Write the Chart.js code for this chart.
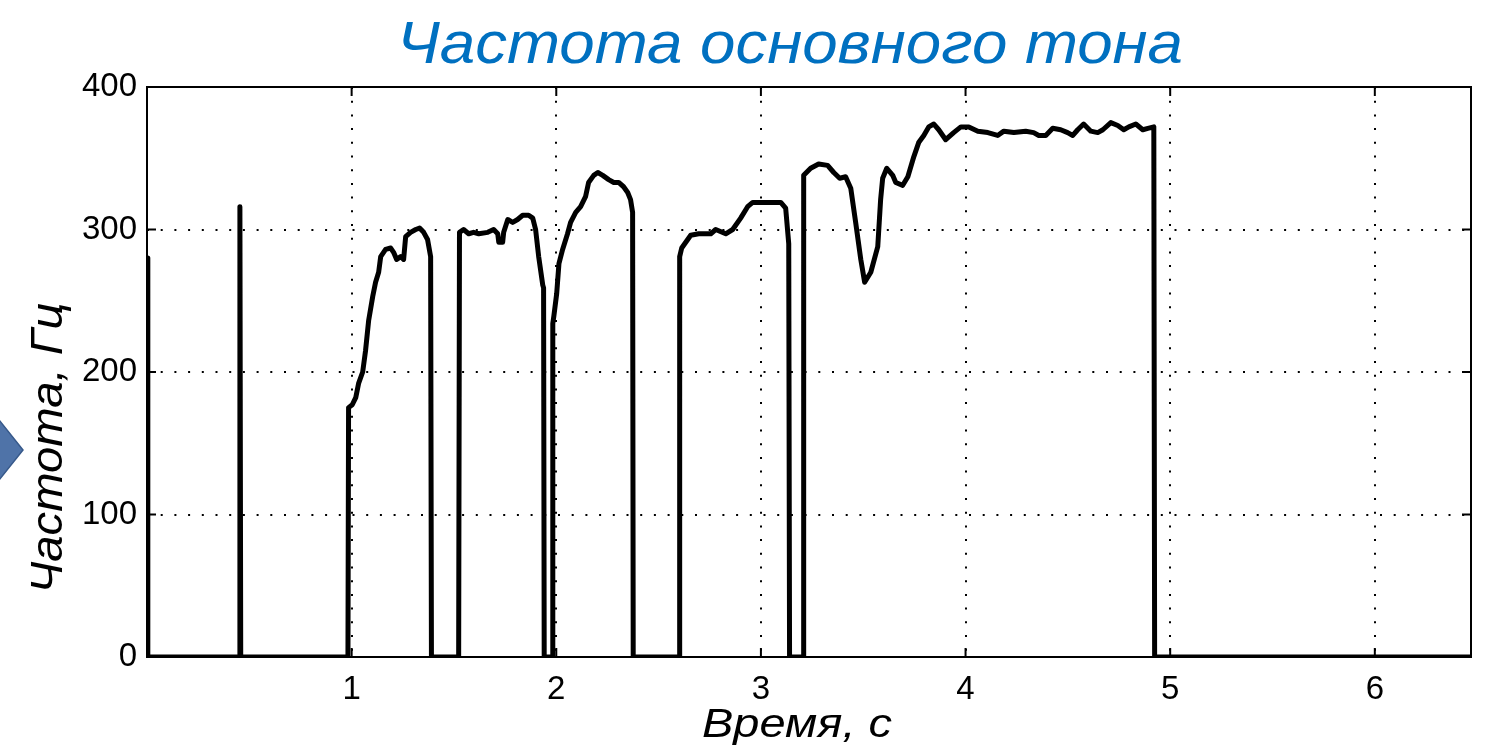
<!DOCTYPE html>
<html lang="ru">
<head>
<meta charset="utf-8">
<title>Частота основного тона</title>
<script src="https://cdn.jsdelivr.net/npm/chart.js@4.4.0/dist/chart.umd.min.js"></script>
<style>
  html, body { margin: 0; padding: 0; background: #fff; }
  #wrap { width: 1487px; height: 747px; }
</style>
</head>
<body>
<div id="wrap"><canvas id="f0-chart"></canvas></div>
<script>
// Время (с) и частота основного тона (Гц)
const timeS = [
  0, 0.004, 0.451, 0.454, 0.458, 0.982,
  0.985, 1.003, 1.020, 1.034, 1.054, 1.068, 1.083, 1.103, 1.117, 1.132, 1.142, 1.166,
  1.191, 1.205, 1.220, 1.240, 1.254, 1.264, 1.288, 1.313, 1.332, 1.352, 1.371, 1.386, 1.390,
  1.523, 1.527, 1.547, 1.572, 1.596, 1.621, 1.665, 1.694, 1.714, 1.719, 1.738, 1.743, 1.763,
  1.787, 1.811, 1.836, 1.865, 1.885, 1.899, 1.914, 1.934, 1.938, 1.941,
  1.980, 1.983, 1.988, 2.002, 2.013, 2.031, 2.055, 2.070, 2.095, 2.119, 2.143, 2.158, 2.183,
  2.203, 2.227, 2.256, 2.281, 2.305, 2.329, 2.349, 2.363, 2.373, 2.376,
  2.600, 2.603, 2.613, 2.657, 2.696, 2.755, 2.779, 2.828, 2.862, 2.901, 2.935, 2.960, 2.999,
  3.073, 3.097, 3.121, 3.136, 3.140,
  3.206, 3.209, 3.243, 3.282, 3.326, 3.356, 3.385, 3.414, 3.439, 3.463, 3.488, 3.507, 3.537,
  3.571, 3.585, 3.595, 3.615, 3.644, 3.659, 3.693, 3.718, 3.747, 3.771, 3.796, 3.820, 3.845,
  3.869, 3.903, 3.942, 3.977, 4.016, 4.060, 4.109, 4.157, 4.187, 4.236, 4.294, 4.333, 4.358,
  4.392, 4.426, 4.465, 4.499, 4.524, 4.548, 4.577, 4.612, 4.646, 4.671, 4.710, 4.744, 4.773,
  4.798, 4.832, 4.866, 4.891, 4.920, 4.924, 6.47
];
const pitchHz = [
  280, 0, 0, 316, 0, 0,
  175, 177, 182, 192, 200, 215, 236, 253, 263, 270, 281, 286,
  287, 284, 279, 281, 279, 295, 298, 300, 301, 298, 293, 281, 0,
  0, 298, 300, 297, 298, 297, 298, 300, 297, 291, 291, 298, 307,
  305, 307, 310, 310, 308, 300, 281, 261, 259, 0,
  0, 234, 239, 255, 276, 286, 297, 305, 312, 316, 323, 333, 338,
  340, 338, 335, 333, 333, 330, 326, 321, 312, 0,
  0, 281, 287, 296, 297, 297, 300, 297, 300, 308, 316, 319, 319,
  319, 319, 315, 290, 0,
  0, 338, 343, 346, 345, 340, 336, 337, 329, 305, 279, 263, 270,
  288, 321, 336, 343, 338, 333, 331, 337, 351, 361, 366, 372, 374,
  370, 363, 368, 372, 372, 369, 368, 366, 369, 368, 369, 368, 366,
  366, 371, 370, 368, 366, 370, 374, 369, 368, 370, 375, 373, 370,
  372, 374, 370, 371, 372, 0, 0
];
const xTicks = [1, 2, 3, 4, 5, 6];
const yTicks = [0, 100, 200, 300, 400];
const titleText = 'Частота основного тона';
const xTitleText = 'Время, с';
const yTitleText = 'Частота, Гц';

// Текст с подгонкой ширины (растянут по оси надписи, как на исходнике)
function drawStretched(ctx, text, x, y, size, width, color, angle) {
  ctx.save();
  ctx.font = 'italic ' + size + 'px "Liberation Sans", Arial, sans-serif';
  ctx.fillStyle = color;
  ctx.textAlign = 'center';
  ctx.textBaseline = 'alphabetic';
  ctx.translate(x, y);
  if (angle) ctx.rotate(angle);
  const k = width / ctx.measureText(text).width;
  ctx.scale(k, 1);
  ctx.fillText(text, 0, 0);
  ctx.restore();
}

const decor = {
  id: 'decor',
  beforeDraw(chart) {
    const ctx = chart.ctx;
    ctx.save();
    ctx.fillStyle = '#fff';
    ctx.fillRect(0, 0, chart.width, chart.height);
    // синяя стрелка у левого края
    ctx.beginPath();
    ctx.moveTo(-12, 406);
    ctx.lineTo(23, 450);
    ctx.lineTo(-12, 494);
    ctx.closePath();
    ctx.fillStyle = '#4f73a8';
    ctx.fill();
    ctx.strokeStyle = '#37598a';
    ctx.lineWidth = 1.5;
    ctx.stroke();
    ctx.restore();
  },
  beforeDatasetsDraw(chart) {
    const { ctx, chartArea: a, scales } = chart;
    ctx.save();
    ctx.strokeStyle = '#000';
    ctx.lineWidth = 2;
    ctx.strokeRect(a.left, a.top, a.right - a.left, a.bottom - a.top);
    ctx.beginPath();
    xTicks.forEach(v => {
      const px = scales.x.getPixelForValue(v);
      ctx.moveTo(px, a.bottom); ctx.lineTo(px, a.bottom - 9);
      ctx.moveTo(px, a.top); ctx.lineTo(px, a.top + 9);
    });
    yTicks.forEach(v => {
      const py = scales.y.getPixelForValue(v);
      ctx.moveTo(a.left, py); ctx.lineTo(a.left + 9, py);
      ctx.moveTo(a.right, py); ctx.lineTo(a.right - 9, py);
    });
    ctx.stroke();
    ctx.restore();
  },
  afterDraw(chart) {
    const ctx = chart.ctx;
    drawStretched(ctx, titleText, 790, 63, 60, 786, '#0070c0', 0);
    drawStretched(ctx, xTitleText, 797, 737, 40, 190, '#000', 0);
    drawStretched(ctx, yTitleText, 62, 448, 44, 291, '#000', -Math.PI / 2);
  }
};

new Chart(document.getElementById('f0-chart'), {
  type: 'line',
  data: {
    datasets: [{
      label: 'F0',
      data: timeS.map((t, i) => ({ x: t, y: pitchHz[i] })),
      borderColor: '#000',
      borderWidth: 5,
      borderJoinStyle: 'round',
      borderCapStyle: 'round',
      pointRadius: 0,
      tension: 0,
      fill: false
    }]
  },
  options: {
    responsive: true,
    maintainAspectRatio: false,
    animation: false,
    devicePixelRatio: 1,
    layout: { padding: { left: 0, right: 16, top: 87, bottom: 0 } },
    plugins: { legend: { display: false }, tooltip: { enabled: false }, title: { display: false } },
    scales: {
      x: {
        type: 'linear',
        min: 0,
        max: 6.47,
        afterBuildTicks: s => { s.ticks = xTicks.map(v => ({ value: v })); },
        afterFit: s => { s.height = 90; },
        grid: { color: '#000', lineWidth: 2, drawTicks: false },
        border: { display: false, dash: [2, 11.7] },
        ticks: {
          color: '#000',
          padding: 13,
          maxRotation: 0,
          font: { family: '"Liberation Sans", Arial, sans-serif', size: 33 }
        }
      },
      y: {
        type: 'linear',
        min: 0,
        max: 400,
        afterBuildTicks: s => { s.ticks = yTicks.map(v => ({ value: v })); },
        afterFit: s => { s.width = 147; },
        grid: { color: '#000', lineWidth: 2, drawTicks: false },
        border: { display: false, dash: [2, 11.7] },
        ticks: {
          color: '#000',
          padding: 10,
          font: { family: '"Liberation Sans", Arial, sans-serif', size: 33 }
        }
      }
    }
  },
  plugins: [decor]
});
</script>
</body>
</html>
